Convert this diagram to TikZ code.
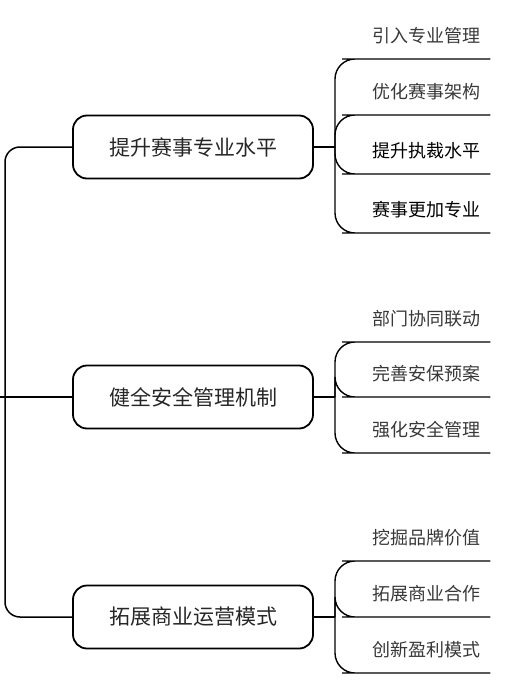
\documentclass[tikz,border=0pt]{standalone}
\usepackage{fontspec}
\newfontfamily\cjk{Noto Sans CJK SC}
\usetikzlibrary{positioning}
\tikzset{
  topic/.style={draw, line width=1.8pt, rounded corners=14pt, minimum width=240pt,
    minimum height=63pt, inner sep=0pt, font=\cjk\fontsize{21}{21}\selectfont, text=black!85},
  leaf/.style={minimum width=128pt, minimum height=46pt, inner sep=0pt, anchor=south west,
    font=\cjk\fontsize{18}{18}\selectfont},
  link/.style={line width=1.5pt, rounded corners=15pt},
  twig/.style={line width=1.4pt, rounded corners=20pt},
}
\begin{document}
\begin{tikzpicture}[x=1pt, y=-1pt]
            \useasboundingbox (0,0) rectangle (509,690);
            % topics
            \node[topic] (t1) at (193,147) {提升赛事专业水平};
            \node[topic] (t2) at (193,397) {健全安全管理机制};
            \node[topic] (t3) at (193,617) {拓展商业运营模式};
            % trunk on the left
            \coordinate (in) at (0,397);
            \coordinate (tb) at (5,617);
            \draw[link] (t1.west) -| (tb) -- (t3.west);
            \draw[link] (in) -- (t2.west);
            % junctions
            \coordinate (ja) at (335,147);
            \coordinate (jb) at (335,397);
            \coordinate (jc) at (335,617);
            % leaves
            \foreach \y/\txt/\col [count=\i] in {59/引入专业管理/black!78, 115/优化赛事架构/black!78,
                174/提升执裁水平/black, 233/赛事更加专业/black}
              \node[leaf, text=\col] (a\i) at (362,\y) {\txt};
            \foreach \y/\txt [count=\i] in {342/部门协同联动, 397/完善安保预案, 453/强化安全管理}
              \node[leaf, text=black!78] (b\i) at (362,\y) {\txt};
            \foreach \y/\txt [count=\i] in {561/挖掘品牌价值, 617/拓展商业合作, 673/创新盈利模式}
              \node[leaf, text=black!78] (c\i) at (362,\y) {\txt};
            % connectors
            \draw[link, line width=2pt] (t1.east) -- (ja);
            \draw[link, line width=2pt] (t2.east) -- (jb);
            \draw[link, line width=2pt] (t3.east) -- (jc);
            \foreach \i in {1,...,4}
              \draw[twig] (ja) |- (a\i.south west) -- (a\i.south east);
            \foreach \i in {1,...,3} {
              \draw[twig] (jb) |- (b\i.south west) -- (b\i.south east);
              \draw[twig] (jc) |- (c\i.south west) -- (c\i.south east);
            }
\end{tikzpicture}
\end{document}
